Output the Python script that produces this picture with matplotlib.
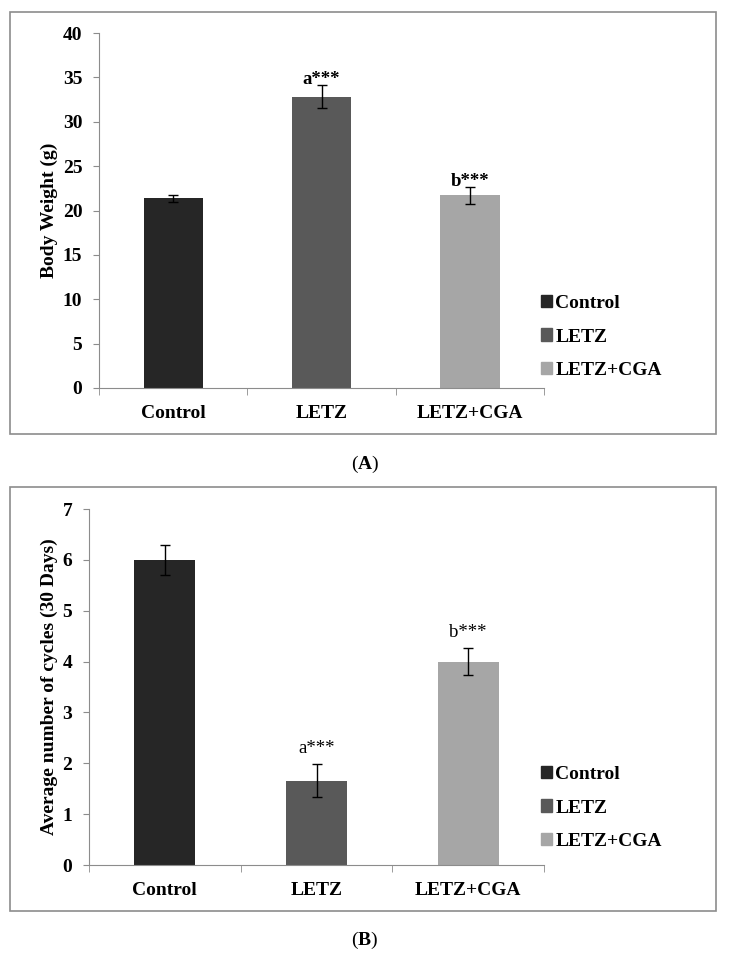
import matplotlib.pyplot as plt
import matplotlib.patches as patches
import numpy as np

plt.rcParams['font.family'] = ['Liberation Serif', 'DejaVu Serif']
plt.rcParams['mathtext.fontset'] = 'custom'
plt.rcParams['mathtext.rm'] = 'Liberation Serif'
plt.rcParams['mathtext.bf'] = 'Liberation Serif:bold'

# Data
groups = ["Control", "LETZ", "LETZ+CGA"]
colors = ["#262626", "#595959", "#a6a6a6"]

weight = [21.4, 32.8, 21.7]
weight_err = [0.4, 1.3, 0.95]
weight_marks = ["", "a***", "b***"]

cycles = [6.0, 1.66, 4.0]
cycles_err = [0.3, 0.33, 0.26]
cycle_marks = ["", "a***", "b***"]

W, H = 730, 960
fig = plt.figure(figsize=(W / 100, H / 100), dpi=100)
grey = "#8c8c8c"


def box(y0, y1):
    # grey frame round one panel, in pixel coords of the reference
    fig.patches.append(patches.Rectangle((10 / W, 1 - y1 / H), 706 / W, (y1 - y0) / H,
                                         transform=fig.transFigure, fill=False,
                                         edgecolor=grey, lw=1.2))


def panel(rect, vals, errs, marks, ymax, ylabel, mark_bold, mark_gap, legend_y):
    ax = fig.add_axes(rect)
    x = np.arange(len(groups))
    ax.bar(x, vals, width=0.4, color=colors, yerr=errs, capsize=3.5,
           error_kw=dict(ecolor="black", elinewidth=1, capthick=1))
    for xi, v, e, m in zip(x, vals, errs, marks):
        if m:
            ax.annotate(m, (xi, v + e), xytext=(0, mark_gap), textcoords="offset points",
                        ha="center", va="baseline", fontsize=13.5,
                        fontweight="bold" if mark_bold else "normal")
    ax.set_xlim(-0.5, 2.5)
    ax.set_ylim(0, ymax)
    ax.set_xticks(x)
    ax.set_xticklabels(groups, fontsize=14, fontweight="bold")
    ax.set_xticks([-0.5, 0.5, 1.5, 2.5], minor=True)
    ax.tick_params(axis="x", which="major", length=0, pad=12)
    ax.tick_params(axis="x", which="minor", length=5, color=grey, direction="out")
    ax.tick_params(axis="y", length=4, color=grey, pad=8, labelsize=14)
    for lab in ax.get_yticklabels():
        lab.set_fontweight("bold")
    for s in ["top", "right"]:
        ax.spines[s].set_visible(False)
    for s in ["left", "bottom"]:
        ax.spines[s].set_color(grey)
    ax.set_ylabel(ylabel, fontsize=14, fontweight="bold", labelpad=3.5)
    handles = [patches.Patch(color=c) for c in colors]
    fig.legend(handles, groups, loc="center left",
               bbox_to_anchor=(531 / W, 1 - legend_y / H), frameon=False,
               prop=dict(size=14, weight="bold"), handlelength=0.6, handleheight=0.6,
               handletextpad=0.15, labelspacing=0.85, borderpad=0)
    return ax


box(12, 434)
panel([99 / W, 1 - 388 / H, 445 / W, 355 / H], weight, weight_err, weight_marks, 40,
      "Body Weight (g)", True, 1, 337)
fig.text(365 / W, 1 - 464 / H, r"($\mathbf{A}$)", ha="center", va="center", fontsize=14)

box(487, 911)
panel([89 / W, 1 - 865 / H, 455 / W, 356 / H], cycles, cycles_err, cycle_marks, 7,
      "Average number of cycles (30 Days)", False, 8, 808)
fig.text(365 / W, 1 - 940 / H, r"($\mathbf{B}$)", ha="center", va="center", fontsize=14)

fig.savefig("out.png", dpi=100)
